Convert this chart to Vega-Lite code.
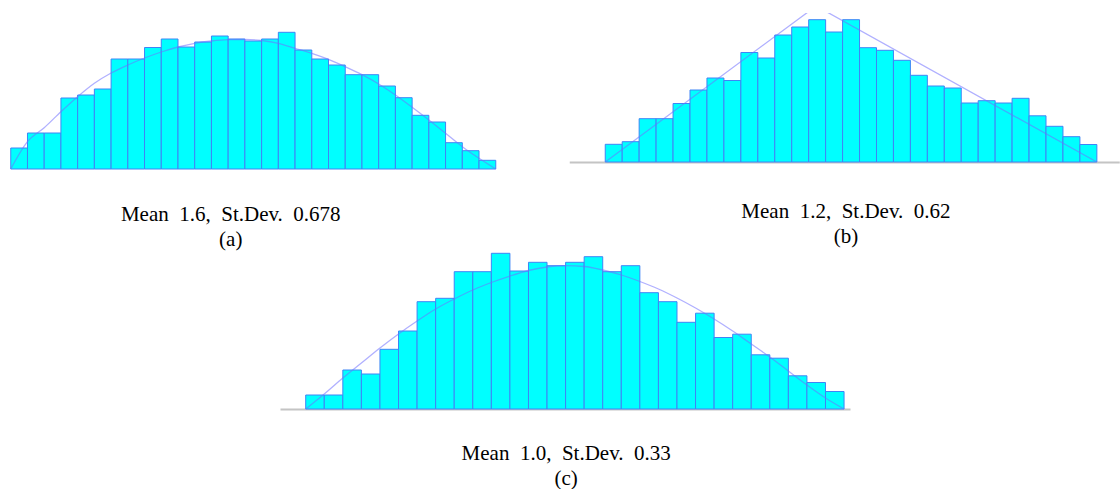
{
  "$schema": "https://vega.github.io/schema/vega-lite/v6.json",
  "background": "white",
  "padding": {"left": 7.5, "top": 13, "right": 0, "bottom": 0},
  "config": {
    "view": {"stroke": null},
    "title": {"font": "Liberation Serif", "fontSize": 21, "fontWeight": "normal", "color": "#000000", "lineHeight": 25, "orient": "bottom", "anchor": "middle", "frame": "group"}
  },
  "datasets": {
    "barsA": [
      {"x0": 0, "x1": 1, "h": 21}, {"x0": 1, "x1": 2, "h": 36}, {"x0": 2, "x1": 3, "h": 36}, {"x0": 3, "x1": 4, "h": 71},
      {"x0": 4, "x1": 5, "h": 74}, {"x0": 5, "x1": 6, "h": 80}, {"x0": 6, "x1": 7, "h": 110}, {"x0": 7, "x1": 8, "h": 110},
      {"x0": 8, "x1": 9, "h": 121.5}, {"x0": 9, "x1": 10, "h": 130}, {"x0": 10, "x1": 11, "h": 122}, {"x0": 11, "x1": 12, "h": 127},
      {"x0": 12, "x1": 13, "h": 133}, {"x0": 13, "x1": 14, "h": 130}, {"x0": 14, "x1": 15, "h": 128}, {"x0": 15, "x1": 16, "h": 130},
      {"x0": 16, "x1": 17, "h": 136.7}, {"x0": 17, "x1": 18, "h": 119}, {"x0": 18, "x1": 19, "h": 110}, {"x0": 19, "x1": 20, "h": 104},
      {"x0": 20, "x1": 21, "h": 94.3}, {"x0": 21, "x1": 22, "h": 94.3}, {"x0": 22, "x1": 23, "h": 83}, {"x0": 23, "x1": 24, "h": 71.3},
      {"x0": 24, "x1": 25, "h": 53.7}, {"x0": 25, "x1": 26, "h": 47}, {"x0": 26, "x1": 27, "h": 26.3}, {"x0": 27, "x1": 28, "h": 18.3},
      {"x0": 28, "x1": 29, "h": 8.7}
    ],
    "curveA": [
      {"u": 0, "h": 0}, {"u": 1, "h": 27.3}, {"u": 2, "h": 41.3}, {"u": 3, "h": 57.3}, {"u": 4, "h": 72.3}, {"u": 5, "h": 85.7},
      {"u": 6, "h": 96}, {"u": 7, "h": 104}, {"u": 8, "h": 111}, {"u": 9, "h": 117}, {"u": 10, "h": 122}, {"u": 11, "h": 125.7},
      {"u": 12, "h": 128}, {"u": 13, "h": 129.3}, {"u": 14, "h": 129.5}, {"u": 15, "h": 128.5}, {"u": 16, "h": 125.7}, {"u": 17, "h": 120.7},
      {"u": 18, "h": 115.7}, {"u": 19, "h": 109.7}, {"u": 20, "h": 102.3}, {"u": 21, "h": 94.3}, {"u": 22, "h": 85}, {"u": 23, "h": 74},
      {"u": 24, "h": 61.7}, {"u": 25, "h": 49}, {"u": 26, "h": 35.7}, {"u": 27, "h": 22.3}, {"u": 28, "h": 10.7}, {"u": 29, "h": 0}
    ],
    "barsB": [
      {"x0": 0, "x1": 1, "h": 17.7}, {"x0": 1, "x1": 2, "h": 20.3}, {"x0": 2, "x1": 3, "h": 43.3}, {"x0": 3, "x1": 4, "h": 43.3},
      {"x0": 4, "x1": 5, "h": 58.5}, {"x0": 5, "x1": 6, "h": 72}, {"x0": 6, "x1": 7, "h": 84}, {"x0": 7, "x1": 8, "h": 81.5},
      {"x0": 8, "x1": 9, "h": 109.5}, {"x0": 9, "x1": 10, "h": 104}, {"x0": 10, "x1": 11, "h": 127}, {"x0": 11, "x1": 12, "h": 135},
      {"x0": 12, "x1": 13, "h": 142.3}, {"x0": 13, "x1": 14, "h": 130}, {"x0": 14, "x1": 15, "h": 142.3}, {"x0": 15, "x1": 16, "h": 114.3},
      {"x0": 16, "x1": 17, "h": 111.7}, {"x0": 17, "x1": 18, "h": 101.7}, {"x0": 18, "x1": 19, "h": 86.7}, {"x0": 19, "x1": 20, "h": 76},
      {"x0": 20, "x1": 21, "h": 74}, {"x0": 21, "x1": 22, "h": 59}, {"x0": 22, "x1": 23, "h": 61.3}, {"x0": 23, "x1": 24, "h": 59},
      {"x0": 24, "x1": 25, "h": 63.7}, {"x0": 25, "x1": 26, "h": 46.2}, {"x0": 26, "x1": 27, "h": 35.7}, {"x0": 27, "x1": 28, "h": 25.3},
      {"x0": 28, "x1": 29, "h": 17.5}
    ],
    "curveB": [
      {"u": 0, "h": 0}, {"u": 12.44, "h": 156}, {"u": 29, "h": 0}
    ],
    "barsC": [
      {"x0": 0, "x1": 1, "h": 14}, {"x0": 1, "x1": 2, "h": 14}, {"x0": 2, "x1": 3, "h": 39}, {"x0": 3, "x1": 4, "h": 35},
      {"x0": 4, "x1": 5, "h": 59.7}, {"x0": 5, "x1": 6, "h": 78}, {"x0": 6, "x1": 7, "h": 107.3}, {"x0": 7, "x1": 8, "h": 110.7},
      {"x0": 8, "x1": 9, "h": 137.3}, {"x0": 9, "x1": 10, "h": 137.3}, {"x0": 10, "x1": 11, "h": 155.7}, {"x0": 11, "x1": 12, "h": 138},
      {"x0": 12, "x1": 13, "h": 146.7}, {"x0": 13, "x1": 14, "h": 143.3}, {"x0": 14, "x1": 15, "h": 146.7}, {"x0": 15, "x1": 16, "h": 152.3},
      {"x0": 16, "x1": 17, "h": 137.3}, {"x0": 17, "x1": 18, "h": 143.3}, {"x0": 18, "x1": 19, "h": 116.3}, {"x0": 19, "x1": 20, "h": 107.3},
      {"x0": 20, "x1": 21, "h": 86.7}, {"x0": 21, "x1": 22, "h": 95.8}, {"x0": 22, "x1": 23, "h": 71.5}, {"x0": 23, "x1": 24, "h": 74.8},
      {"x0": 24, "x1": 25, "h": 54.2}, {"x0": 25, "x1": 26, "h": 50.8}, {"x0": 26, "x1": 27, "h": 33.2}, {"x0": 27, "x1": 28, "h": 26.5},
      {"x0": 28, "x1": 29, "h": 17.5}
    ],
    "curveC": [
      {"u": 0, "h": 0}, {"u": 1, "h": 15}, {"u": 2, "h": 31}, {"u": 3, "h": 46}, {"u": 4, "h": 61}, {"u": 5, "h": 75},
      {"u": 6, "h": 88}, {"u": 7, "h": 100}, {"u": 8, "h": 110}, {"u": 9, "h": 119}, {"u": 10, "h": 126.5}, {"u": 11, "h": 133},
      {"u": 12, "h": 138.5}, {"u": 13, "h": 142}, {"u": 14, "h": 143.3}, {"u": 15, "h": 142.5}, {"u": 16, "h": 139}, {"u": 17, "h": 134},
      {"u": 18, "h": 127.5}, {"u": 19, "h": 120}, {"u": 20, "h": 111}, {"u": 21, "h": 101}, {"u": 22, "h": 90}, {"u": 23, "h": 78},
      {"u": 24, "h": 65}, {"u": 25, "h": 52}, {"u": 26, "h": 38}, {"u": 27, "h": 24}, {"u": 28, "h": 11}, {"u": 29, "h": 0}
    ]
  },
  "vconcat": [
    {
      "hconcat": [
        {
          "width": 485,
          "height": 156,
          "title": {"text": ["Mean\u20021.6,\u2002St.Dev.\u20020.678", "(a)"], "dx": -22.5, "offset": 32.2},
          "layer": [
            {
              "data": {"name": "barsA"},
              "mark": {"type": "rect", "fill": "#00ffff", "stroke": "#3f84f5", "strokeWidth": 1},
              "encoding": {
                "x": {"field": "x0", "type": "quantitative", "scale": {"domain": [0, 29], "nice": false, "zero": false}, "axis": null},
                "x2": {"field": "x1"},
                "y": {"field": "h", "type": "quantitative", "scale": {"domain": [0, 156], "nice": false}, "axis": null},
                "y2": {"datum": 0}
              }
            },
            {
              "data": {"name": "curveA"},
              "mark": {"type": "line", "interpolate": "monotone", "stroke": "#7070ff", "strokeOpacity": 0.55, "strokeWidth": 1.3},
              "encoding": {
                "x": {"field": "u", "type": "quantitative"},
                "y": {"field": "h", "type": "quantitative"}
              }
            }
          ]
        },
        {
          "width": 550,
          "height": 149,
          "title": {"text": ["Mean\u20021.2,\u2002St.Dev.\u20020.62", "(b)"], "dx": 1.7, "offset": 38.2},
          "layer": [
            {
              "data": {"name": "barsB"},
              "mark": {"type": "rect", "fill": "#00ffff", "stroke": "#3f84f5", "strokeWidth": 1},
              "encoding": {
                "x": {"field": "x0", "type": "quantitative", "scale": {"domain": [-2.123, 30.32], "nice": false, "zero": false},
                      "axis": {"domain": true, "domainColor": "#c4c4c4", "domainWidth": 2, "ticks": false, "labels": false, "grid": false, "title": null}},
                "x2": {"field": "x1"},
                "y": {"field": "h", "type": "quantitative", "scale": {"domain": [0, 149], "nice": false}, "axis": null},
                "y2": {"datum": 0}
              }
            },
            {
              "data": {"name": "curveB"},
              "mark": {"type": "line", "clip": true, "stroke": "#7070ff", "strokeOpacity": 0.55, "strokeWidth": 1.3},
              "encoding": {
                "x": {"field": "u", "type": "quantitative"},
                "y": {"field": "h", "type": "quantitative"}
              }
            }
          ]
        }
      ],
      "spacing": 70.5
    },
    {
      "width": 570,
      "height": 159,
      "title": {"text": ["Mean\u20021.0,\u2002St.Dev.\u20020.33", "(c)"], "dx": 1.2, "offset": 31.6},
      "layer": [
        {
          "data": {"name": "barsC"},
          "mark": {"type": "rect", "fill": "#00ffff", "stroke": "#3f84f5", "strokeWidth": 1},
          "encoding": {
            "x": {"field": "x0", "type": "quantitative", "scale": {"domain": [-1.385, 29.32], "nice": false, "zero": false},
                  "axis": {"domain": true, "domainColor": "#c4c4c4", "domainWidth": 2, "ticks": false, "labels": false, "grid": false, "title": null}},
            "x2": {"field": "x1"},
            "y": {"field": "h", "type": "quantitative", "scale": {"domain": [0, 159], "nice": false}, "axis": null},
            "y2": {"datum": 0}
          }
        },
        {
          "data": {"name": "curveC"},
          "mark": {"type": "line", "interpolate": "monotone", "stroke": "#7070ff", "strokeOpacity": 0.55, "strokeWidth": 1.3},
          "encoding": {
            "x": {"field": "u", "type": "quantitative"},
            "y": {"field": "h", "type": "quantitative"}
          }
        }
      ]
    }
  ],
  "spacing": -1.8,
  "center": true
}
